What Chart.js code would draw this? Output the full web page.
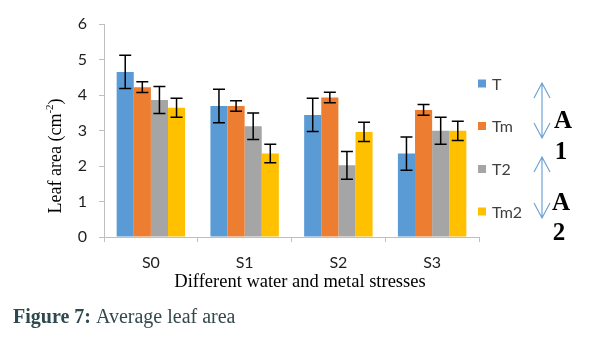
<!DOCTYPE html>
<html>
<head>
<meta charset="utf-8">
<script src="https://cdn.jsdelivr.net/npm/chart.js@4.4.1/dist/chart.umd.min.js"></script>
<style>
  html, body { margin: 0; padding: 0; background: #fff; }
  #wrap { position: relative; width: 595px; height: 343px; }
</style>
</head>
<body>
<div id="wrap"><canvas id="leaf" width="595" height="343"></canvas></div>
<script>
// ── data ─────────────────────────────────────────────────────────────
const STRESSES = ["S0", "S1", "S2", "S3"];
const SERIES = ["T", "Tm", "T2", "Tm2"];
const COLORS = ["#5B9BD5", "#ED7D31", "#A5A5A5", "#FFC000"];

const T_VAL = [4.65, 3.69, 3.44, 2.35];
const TM_VAL = [4.22, 3.69, 3.93, 3.58];
const T2_VAL = [3.86, 3.12, 2.02, 2.99];
const TM2_VAL = [3.64, 2.35, 2.96, 2.99];

const T_ERR = [0.47, 0.47, 0.47, 0.47];
const TM_ERR = [0.15, 0.15, 0.15, 0.15];
const T2_ERR = [0.38, 0.37, 0.39, 0.38];
const TM2_ERR = [0.27, 0.26, 0.27, 0.27];

const Y_TICKS = [0, 1, 2, 3, 4, 5, 6];

const VALUES = [T_VAL, TM_VAL, T2_VAL, TM2_VAL];
const ERRORS = [T_ERR, TM_ERR, T2_ERR, TM2_ERR];

const SANS = "Lato, 'Open Sans', sans-serif";
const SERIF = "'Liberation Serif', 'DejaVu Serif', serif";
const AXIS_COL = "#bfbfbf";
const TEXT_COL = "#1f1f1f";

// ── error bars ───────────────────────────────────────────────────────
const errorBars = {
  id: "errorBars",
  afterDatasetsDraw(chart) {
    const { ctx } = chart;
    const y = chart.scales.y;
    ctx.save();
    ctx.strokeStyle = "#000";
    ctx.lineWidth = 1.5;
    chart.data.datasets.forEach((ds, di) => {
      const meta = chart.getDatasetMeta(di);
      meta.data.forEach((bar, i) => {
        const v = ds.data[i], e = ERRORS[di][i];
        const yt = y.getPixelForValue(v + e);
        const yb = y.getPixelForValue(v - e);
        const x = bar.x, cap = 6;
        ctx.beginPath();
        ctx.moveTo(x, yt); ctx.lineTo(x, yb);
        ctx.moveTo(x - cap, yt); ctx.lineTo(x + cap, yt);
        ctx.moveTo(x - cap, yb); ctx.lineTo(x + cap, yb);
        ctx.stroke();
      });
    });
    ctx.restore();
  },
};

// ── titles, legend, side arrows, caption ─────────────────────────────
function arrow(ctx, x, y1, y2) {
  const hw = 8, hl = 15;
  ctx.beginPath();
  ctx.moveTo(x, y1); ctx.lineTo(x, y2);
  ctx.moveTo(x - hw, y1 + hl); ctx.lineTo(x, y1); ctx.lineTo(x + hw, y1 + hl);
  ctx.moveTo(x - hw, y2 - hl); ctx.lineTo(x, y2); ctx.lineTo(x + hw, y2 - hl);
  ctx.stroke();
}

const decorations = {
  id: "decorations",
  afterDraw(chart) {
    const { ctx } = chart;
    ctx.save();

    // y axis title with superscript
    ctx.fillStyle = "#000";
    ctx.textBaseline = "middle";
    ctx.translate(56, 156);
    ctx.rotate(-Math.PI / 2);
    const big = "18px " + SERIF, small = "11px " + SERIF;
    ctx.font = big;
    const p1 = "Leaf area (cm", p3 = ")";
    const w1 = ctx.measureText(p1).width, w3 = ctx.measureText(p3).width;
    ctx.font = small;
    const p2 = "-2", w2 = ctx.measureText(p2).width;
    let x0 = -(w1 + w2 + w3) / 2;
    ctx.textAlign = "left";
    ctx.font = big; ctx.fillText(p1, x0, 0);
    ctx.font = small; ctx.fillText(p2, x0 + w1, -6);
    ctx.font = big; ctx.fillText(p3, x0 + w1 + w2, 0);
    ctx.setTransform(1, 0, 0, 1, 0, 0);

    // x axis title
    ctx.font = "18.5px " + SERIF;
    ctx.textAlign = "center";
    ctx.fillText("Different water and metal stresses", 300, 282);

    // legend
    const ly = [83.5, 126, 169, 211.5];
    ctx.font = "16px " + SANS;
    ctx.textAlign = "left";
    chart.data.datasets.forEach((ds, i) => {
      ctx.fillStyle = ds.backgroundColor;
      ctx.fillRect(478, ly[i] - 4, 8, 8);
      ctx.fillStyle = "#404040";
      ctx.fillText(ds.label, 492, ly[i] + 1);
    });

    // group arrows and labels
    ctx.strokeStyle = "#6fa3d6";
    ctx.lineWidth = 1.2;
    arrow(ctx, 542, 83, 138);
    arrow(ctx, 542, 157, 218);
    ctx.fillStyle = "#000";
    ctx.font = "bold 25px " + SERIF;
    ctx.textAlign = "center";
    ctx.fillText("A", 563, 122);
    ctx.fillText("1", 561, 153);
    ctx.fillText("A", 561, 204);
    ctx.fillText("2", 559, 234);

    // caption
    ctx.textAlign = "left";
    ctx.fillStyle = "#2e4a4f";
    ctx.font = "bold 20px " + SERIF;
    const lead = "Figure 7:";
    ctx.fillText(lead, 13, 318);
    const lw = ctx.measureText(lead).width;
    ctx.fillStyle = "#34484c";
    ctx.font = "20px " + SERIF;
    ctx.fillText(" Average leaf area", 13 + lw, 318);

    ctx.restore();
  },
};

// ── chart ────────────────────────────────────────────────────────────
new Chart(document.getElementById("leaf"), {
  type: "bar",
  data: {
    labels: STRESSES,
    datasets: SERIES.map((name, i) => ({
      label: name,
      data: VALUES[i],
      backgroundColor: COLORS[i],
      borderWidth: 0,
      categoryPercentage: 0.73,
      barPercentage: 1.0,
    })),
  },
  options: {
    responsive: false,
    animation: false,
    events: [],
    layout: { padding: { top: 24, right: 116, left: 0, bottom: 0 } },
    plugins: { legend: { display: false }, tooltip: { enabled: false } },
    scales: {
      x: {
        grid: {
          offset: true,
          drawOnChartArea: false,
          tickLength: 5,
          color: AXIS_COL,
        },
        border: { color: AXIS_COL, width: 1 },
        ticks: {
          color: TEXT_COL,
          font: { family: SANS, size: 16 },
          padding: 11,
          maxRotation: 0,
        },
        afterFit: (s) => { s.height = 106; },
      },
      y: {
        min: 0,
        max: 6,
        afterBuildTicks: (s) => { s.ticks = Y_TICKS.map((v) => ({ value: v })); },
        grid: { drawOnChartArea: false, tickLength: 5, color: AXIS_COL },
        border: { color: AXIS_COL, width: 1 },
        ticks: {
          color: TEXT_COL,
          font: { family: SANS, size: 16 },
          padding: 12,
        },
        afterFit: (s) => { s.width = 104; },
      },
    },
  },
  plugins: [errorBars, decorations],
});
</script>
</body>
</html>
